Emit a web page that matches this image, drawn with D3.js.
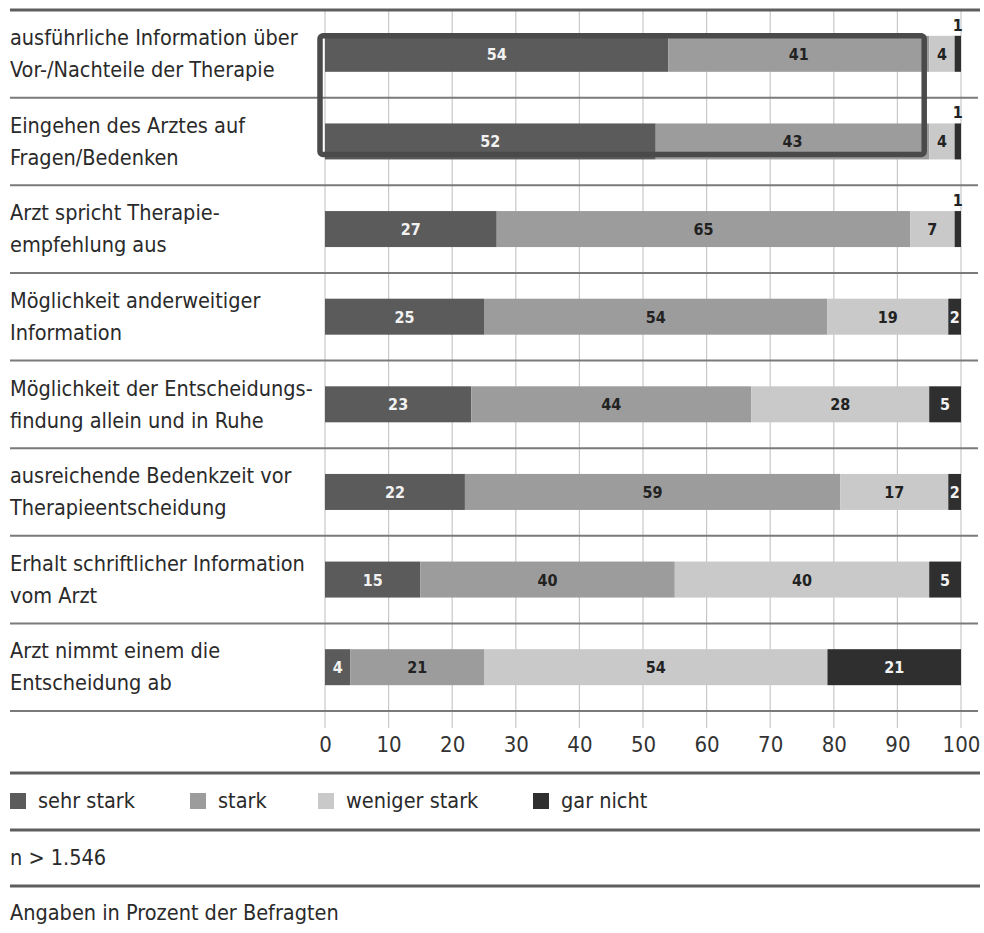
<!DOCTYPE html>
<html>
<head>
<meta charset="utf-8">
<script src="https://cdn.jsdelivr.net/npm/d3@7"></script>
<style>
  body { margin: 0; background: #fff; }
  svg { display: block; font-family: "Liberation Sans Narrow", "DejaVu Sans Condensed", "Noto Sans", sans-serif; }
</style>
</head>
<body>
<svg id="chart"></svg>
<script>
const categories = [
  "ausführliche Information über|Vor-/Nachteile der Therapie",
  "Eingehen des Arztes auf|Fragen/Bedenken",
  "Arzt spricht Therapie-|empfehlung aus",
  "Möglichkeit anderweitiger|Information",
  "Möglichkeit der Entscheidungs-|findung allein und in Ruhe",
  "ausreichende Bedenkzeit vor|Therapieentscheidung",
  "Erhalt schriftlicher Information|vom Arzt",
  "Arzt nimmt einem die|Entscheidung ab"
];
const sehrStark = [54, 52, 27, 25, 23, 22, 15, 4];
const stark = [41, 43, 65, 54, 44, 59, 40, 21];
const wenigerStark = [4, 4, 7, 19, 28, 17, 40, 54];
const garNicht = [1, 1, 1, 2, 5, 2, 5, 21];
const seriesNames = ["sehr stark", "stark", "weniger stark", "gar nicht"];
const tickValues = [0, 10, 20, 30, 40, 50, 60, 70, 80, 90, 100];
const highlighted = [0, 1]; // rows in the frame
const sampleNote = "n > 1.546";
const unitNote = "Angaben in Prozent der Befragten";

const width = 984;
const height = 933;

const svg = d3.select("#chart")
  .attr("width", width)
  .attr("height", height);

const keys = ["sehrStark", "stark", "wenigerStark", "garNicht"];
const rows = categories.map((c, i) => ({
  cat: c,
  sehrStark: sehrStark[i],
  stark: stark[i],
  wenigerStark: wenigerStark[i],
  garNicht: garNicht[i]
}));

const colors = d3.scaleOrdinal()
  .domain(keys)
  .range(["#5b5b5b", "#9c9c9c", "#c9c9c9", "#2f2f2f"]);
const textColors = d3.scaleOrdinal()
  .domain(keys)
  .range(["#f2f2f2", "#222", "#222", "#f2f2f2"]);

const x = d3.scaleLinear().domain([0, 100]).range([325, 961]);
const y = d3.scaleBand().domain(categories).range([10, 711]);
const barH = 36;

// vertical gridlines
svg.append("g")
  .selectAll("line")
  .data(tickValues)
  .join("line")
  .attr("x1", d => x(d)).attr("x2", d => x(d))
  .attr("y1", 10).attr("y2", 728)
  .attr("stroke", "#c8c8c8")
  .attr("stroke-width", 1.2);

// row separators
svg.append("g")
  .selectAll("line")
  .data(categories.slice(1).concat(["end"]))
  .join("line")
  .attr("x1", 10).attr("x2", 978)
  .attr("y1", d => d === "end" ? 711 : y(d))
  .attr("y2", d => d === "end" ? 711 : y(d))
  .attr("stroke", "#7a7a7a")
  .attr("stroke-width", 2);

// thick rules
svg.append("g")
  .selectAll("line")
  .data([10, 773, 830, 886])
  .join("line")
  .attr("x1", 10).attr("x2", 980)
  .attr("y1", d => d).attr("y2", d => d)
  .attr("stroke", "#5e5e5e")
  .attr("stroke-width", 3);

// category labels
const labels = svg.append("g")
  .selectAll("text")
  .data(categories)
  .join("text")
  .attr("x", 10)
  .attr("y", d => y(d) + 35)
  .attr("font-size", 21.5)
  .attr("fill", "#2a2a2a");
labels.selectAll("tspan")
  .data(d => d.split("|"))
  .join("tspan")
  .attr("x", 10)
  .attr("dy", (d, i) => i === 0 ? 0 : 32)
  .text(d => d);

// stacked bars
const stacked = d3.stack().keys(keys)(rows);

const layers = svg.append("g")
  .selectAll("g")
  .data(stacked)
  .join("g")
  .attr("fill", d => colors(d.key));

layers.selectAll("rect")
  .data(d => d)
  .join("rect")
  .attr("x", d => x(d[0]))
  .attr("width", d => x(d[1]) - x(d[0]))
  .attr("y", d => y(d.data.cat) + y.bandwidth() / 2 - barH / 2)
  .attr("height", barH);

// value labels (tiny segments get theirs above the bar)
svg.append("g")
  .selectAll("g")
  .data(stacked)
  .join("g")
  .selectAll("text")
  .data(d => d.map(s => ({ s, key: d.key })))
  .join("text")
  .attr("x", d => x((d.s[0] + d.s[1]) / 2))
  .attr("y", d => {
    const mid = y(d.s.data.cat) + y.bandwidth() / 2;
    return (d.s[1] - d.s[0]) < 2 ? mid - barH / 2 - 5 : mid + 6;
  })
  .attr("text-anchor", "middle")
  .attr("font-family", "'DejaVu Sans Condensed', 'Liberation Sans Narrow', sans-serif")
  .attr("font-weight", "bold")
  .attr("font-size", 16)
  .attr("fill", d => (d.s[1] - d.s[0]) < 2 ? "#222" : textColors(d.key))
  .text(d => d.s[1] - d.s[0]);

// frame around the first two rows
const first = y(categories[highlighted[0]]) + y.bandwidth() / 2 - barH / 2;
const last = y(categories[highlighted[highlighted.length - 1]]) + y.bandwidth() / 2 + barH / 2;
svg.append("rect")
  .attr("x", x(0) - 5)
  .attr("y", first)
  .attr("width", x(sehrStark[0] + stark[0]) - x(0))
  .attr("height", last - first - 5)
  .attr("rx", 3)
  .attr("fill", "none")
  .attr("stroke", "#4a4a4a")
  .attr("stroke-width", 5.5);

// x axis
const axis = svg.append("g")
  .attr("transform", "translate(0,728)")
  .call(d3.axisBottom(x).tickValues(tickValues).tickSize(0).tickPadding(8));
axis.select(".domain").remove();
axis.selectAll("text")
  .attr("font-size", 22)
  .attr("font-family", "'Liberation Sans Narrow', 'DejaVu Sans Condensed', sans-serif")
  .attr("fill", "#333");

// legend
const legendX = [10, 190, 318, 533];
const legend = svg.append("g")
  .selectAll("g")
  .data(seriesNames)
  .join("g")
  .attr("transform", (d, i) => `translate(${legendX[i]},801)`);
legend.append("rect")
  .attr("x", 0).attr("y", -8)
  .attr("width", 16).attr("height", 16)
  .attr("fill", (d, i) => colors(keys[i]));
legend.append("text")
  .attr("x", 28).attr("y", 7)
  .attr("font-size", 21.5)
  .attr("fill", "#2a2a2a")
  .text(d => d);

svg.append("text")
  .attr("x", 10).attr("y", 865)
  .attr("font-size", 21.5)
  .attr("fill", "#2a2a2a")
  .text(sampleNote);

svg.append("text")
  .attr("x", 10).attr("y", 920)
  .attr("font-size", 21.5)
  .attr("fill", "#2a2a2a")
  .text(unitNote);
</script>
</body>
</html>
